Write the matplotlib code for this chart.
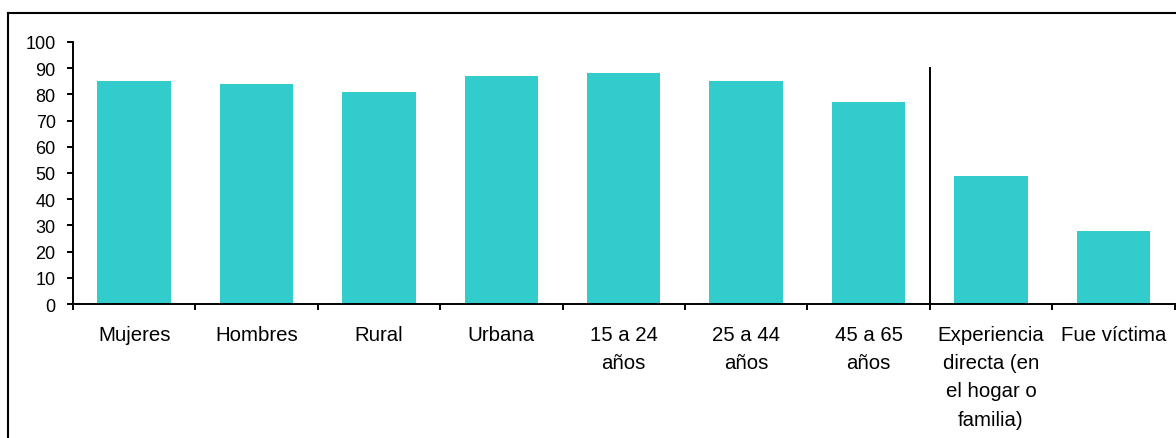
import matplotlib
matplotlib.use("Agg")
import matplotlib.pyplot as plt
from matplotlib.lines import Line2D

categories = [
    "Mujeres", "Hombres", "Rural", "Urbana", "15 a 24\naños", "25 a 44\naños",
    "45 a 65\naños", "Experiencia\ndirecta (en\nel hogar o\nfamilia)", "Fue víctima",
]
values = [85, 84, 81, 87, 88, 85, 77, 49, 28]
separator_height = 90
y_ticks = list(range(0, 101, 10))

plt.rcParams["font.family"] = ["Liberation Sans", "DejaVu Sans"]

W, H = 1176, 439
fig = plt.figure(figsize=(W / 100, H / 100), dpi=100)
ax = fig.add_axes([73 / W, (H - 305) / H, (1174.5 - 73) / W, (305 - 43) / H])

x = list(range(len(categories)))
ax.bar(x, values, width=0.6, color="#33CCCC", zorder=2)

ax.set_xlim(-0.5, len(categories) - 0.5)
ax.set_ylim(0, 100)
ax.set_yticks(y_ticks)
ax.tick_params(axis="y", direction="out", length=4.5, width=1.4, labelsize=13, pad=8)

# boundary ticks between categories, labels centred under each bar
ax.set_xticks([i - 0.5 for i in range(len(categories) + 1)])
ax.set_xticklabels([])
ax.tick_params(axis="x", direction="out", length=4.5, width=1.4)
ax.set_xticks(x, minor=True)
ax.set_xticklabels(categories, minor=True, fontsize=14.7, linespacing=1.62, va="top")
ax.tick_params(axis="x", which="minor", length=0, pad=15)

for side in ("top", "right"):
    ax.spines[side].set_visible(False)
for side in ("left", "bottom"):
    ax.spines[side].set_linewidth(1.4)

# divider between the demographic groups and the experience groups
ax.plot([6.5, 6.5], [0, separator_height], color="black", lw=1.4, zorder=3)

# outer frame (left and top edges)
fig.add_artist(Line2D([8 / W, 8 / W], [0, 1 - 14 / H], transform=fig.transFigure, color="black", lw=1.5))
fig.add_artist(Line2D([8 / W, 1], [1 - 14 / H, 1 - 14 / H], transform=fig.transFigure, color="black", lw=1.5))

fig.savefig("out.png", dpi=100)
